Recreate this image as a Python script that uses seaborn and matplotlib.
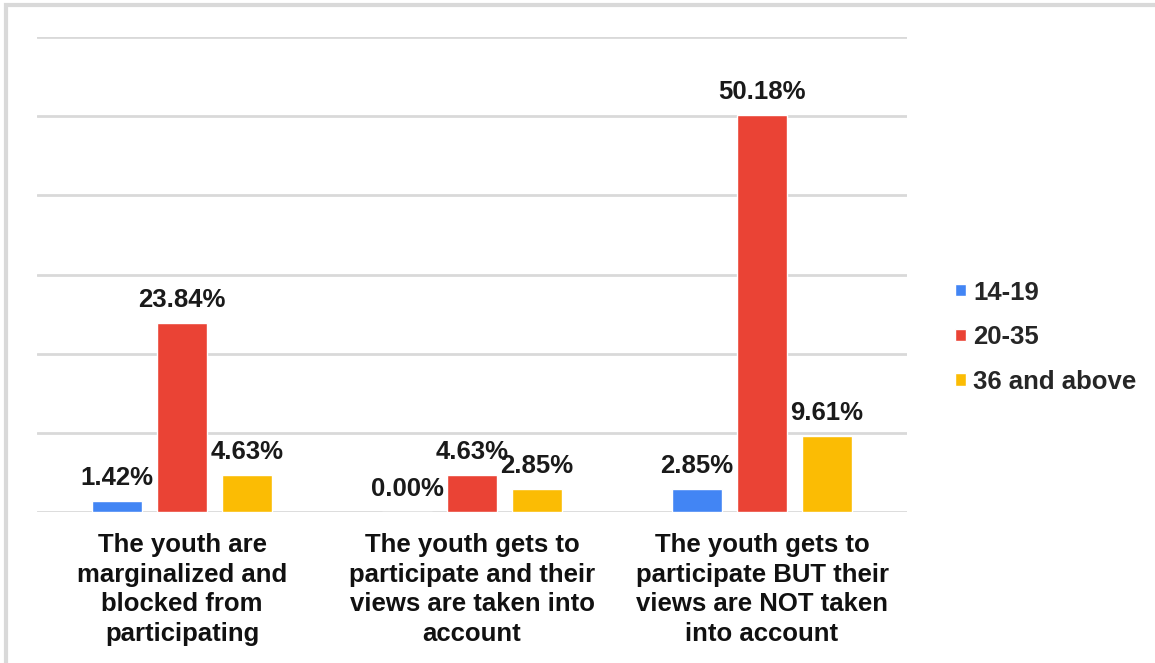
import pandas as pd
import numpy as np
import matplotlib.pyplot as plt
import seaborn as sns
from matplotlib.patches import Rectangle

# data
categories = [
    'The youth are\nmarginalized and\nblocked from\nparticipating',
    'The youth gets to\nparticipate and their\nviews are taken into\naccount',
    'The youth gets to\nparticipate BUT their\nviews are NOT taken\ninto account',
]
age_groups = ['14-19', '20-35', '36 and above']
vals_14_19 = [1.42, 0.00, 2.85]
vals_20_35 = [23.84, 4.63, 50.18]
vals_36_up = [4.63, 2.85, 9.61]
colors = ['#4285F4', '#EA4335', '#FBBC04']

df = pd.DataFrame({
    'category': categories * 3,
    'age': np.repeat(age_groups, 3),
    'value': vals_14_19 + vals_20_35 + vals_36_up,
})

sns.set_style('white')
plt.rcParams['font.family'] = ['Liberation Sans', 'DejaVu Sans']

fig = plt.figure(figsize=(11.55, 6.63), dpi=100)
ax = fig.add_axes([37 / 1155, 151 / 663, 870 / 1155, 475 / 663])

sns.barplot(data=df, x='category', y='value', hue='age', hue_order=age_groups,
            palette=colors, width=0.672, gap=0.23, saturation=1, ax=ax)

for cont in ax.containers:
    ax.bar_label(cont, fmt='%.2f%%', padding=8, fontsize=18.5, fontweight='bold',
                 color='#1a1a1a')

ax.set_ylim(0, 60)
ax.set_xlim(-0.5, 2.5)
ax.set_yticks(range(0, 61, 10))
ax.set_yticklabels([])
ax.tick_params(axis='y', length=0)
ax.tick_params(axis='x', length=0, pad=15)
ax.yaxis.grid(True, color='#d9d9d9', linewidth=2)
ax.set_axisbelow(True)
for s in ax.spines.values():
    s.set_visible(False)
ax.set_xlabel('')
ax.set_ylabel('')
for t in ax.get_xticklabels():
    t.set_fontsize(18.5)
    t.set_fontweight('bold')
    t.set_color('#111111')
    t.set_linespacing(1.3)

leg = ax.legend(loc='center left', bbox_to_anchor=(918 / 870, 0.368), frameon=False,
                fontsize=18.5, handlelength=0.42, handleheight=0.35, handletextpad=0.28,
                labelspacing=0.8, borderaxespad=0, borderpad=0)
for t in leg.get_texts():
    t.set_fontweight('bold')

fig.patches.append(Rectangle((6 / 1155, -0.05), 1.1, 1.05 - 5 / 663, transform=fig.transFigure,
                             fill=False, edgecolor='#d9d9d9', linewidth=3))

plt.savefig('out.png', dpi=100)
